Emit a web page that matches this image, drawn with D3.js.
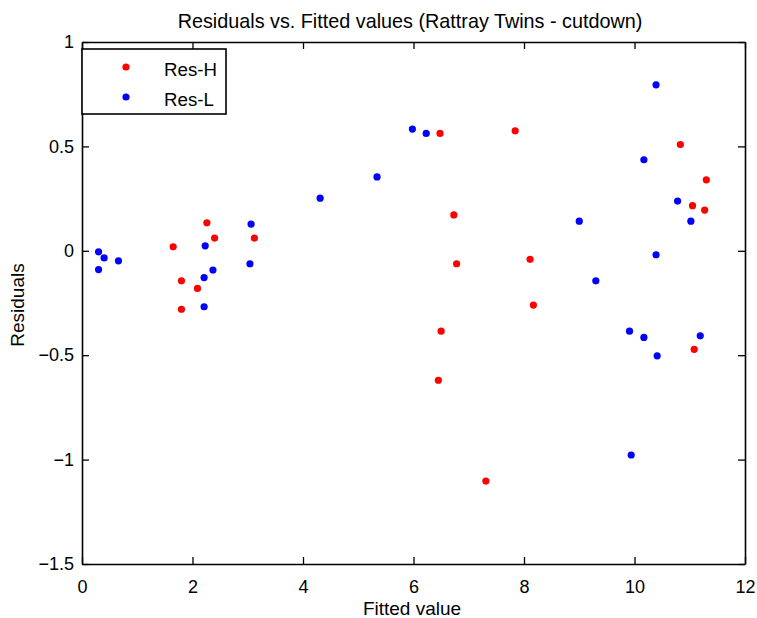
<!DOCTYPE html>
<html>
<head>
<meta charset="utf-8">
<script src="https://cdn.jsdelivr.net/npm/d3@7"></script>
<style>
  body { margin: 0; background: #fff; }
  svg { font-family: "Liberation Sans", Arial, sans-serif; }
</style>
</head>
<body>
<div id="chart"></div>
<script>
// Residuals: [fitted, residual]
const resH = [
  [1.65, 0.019], [1.80, -0.144], [2.09, -0.18], [1.80, -0.28], [2.26, 0.134],
  [2.40, 0.061], [3.12, 0.061], [6.48, 0.562], [7.84, 0.575], [6.73, 0.172],
  [6.78, -0.062], [8.11, -0.041], [8.17, -0.26], [6.50, -0.385], [6.45, -0.62],
  [7.31, -1.103], [10.83, 0.509], [11.30, 0.34], [11.05, 0.216], [11.27, 0.195],
  [11.08, -0.472]
];
const resL = [
  [0.30, -0.005], [0.40, -0.034], [0.66, -0.048], [0.30, -0.09], [2.23, 0.024],
  [2.21, -0.128], [2.37, -0.092], [2.21, -0.268], [3.06, 0.128], [3.04, -0.062],
  [4.31, 0.252], [5.34, 0.354], [5.98, 0.583], [6.23, 0.562], [10.39, 0.795],
  [10.17, 0.436], [10.78, 0.238], [11.02, 0.142], [9.00, 0.142], [10.39, -0.019],
  [9.30, -0.144], [9.91, -0.385], [10.17, -0.415], [11.19, -0.407], [10.41, -0.503],
  [9.94, -0.978]
];
const seriesNames = ['Res-H', 'Res-L'];
const seriesColors = ['#ff0000', '#0000ff'];
const xTicks = [0, 2, 4, 6, 8, 10, 12];
const yTicks = [-1.5, -1, -0.5, 0, 0.5, 1];

const svgWidth = 757, svgHeight = 618;
const margin = {left: 82, top: 42, right: 12, bottom: 54};
const plotW = svgWidth - margin.left - margin.right;
const plotH = svgHeight - margin.top - margin.bottom;

const svg = d3.select('#chart').append('svg')
  .attr('width', svgWidth)
  .attr('height', svgHeight);

const x = d3.scaleLinear().domain([0, 12]).range([margin.left, margin.left + plotW]);
const y = d3.scaleLinear().domain([-1.5, 1]).range([margin.top + plotH, margin.top]);

// points
[resH, resL].forEach((data, k) => {
  svg.append('g').selectAll('circle')
    .data(data)
    .enter()
    .append('circle')
    .attr('cx', d => x(d[0]))
    .attr('cy', d => y(d[1]))
    .attr('r', 3.6)
    .attr('fill', seriesColors[k]);
});

// axes, ticks pointing inward on all four sides
const tick = 7;
const fmt = d => d3.format('')(d);

const axBottom = svg.append('g')
  .attr('transform', 'translate(0,' + (margin.top + plotH) + ')')
  .call(d3.axisBottom(x).tickValues(xTicks).tickSizeInner(-tick).tickSizeOuter(0).tickPadding(16).tickFormat(fmt));
const axTop = svg.append('g')
  .attr('transform', 'translate(0,' + margin.top + ')')
  .call(d3.axisTop(x).tickValues(xTicks).tickSizeInner(-tick).tickSizeOuter(0).tickFormat(''));
const axLeft = svg.append('g')
  .attr('transform', 'translate(' + margin.left + ',0)')
  .call(d3.axisLeft(y).tickValues(yTicks).tickSizeInner(-tick).tickSizeOuter(0).tickPadding(8).tickFormat(fmt));
const axRight = svg.append('g')
  .attr('transform', 'translate(' + (margin.left + plotW) + ',0)')
  .call(d3.axisRight(y).tickValues(yTicks).tickSizeInner(-tick).tickSizeOuter(0).tickFormat(''));

[axBottom, axTop, axLeft, axRight].forEach(g => {
  g.select('.domain').attr('stroke', '#000').attr('stroke-width', 1.6);
  g.selectAll('.tick line').attr('stroke', '#000').attr('stroke-width', 1.3);
  g.selectAll('.tick text').attr('fill', '#000').attr('font-size', 18)
    .attr('font-family', '"Liberation Sans", Arial, sans-serif');
});

// title and labels
svg.append('text')
  .attr('x', 410)
  .attr('y', 28)
  .attr('text-anchor', 'middle')
  .attr('font-size', 19.8)
  .text('Residuals vs. Fitted values (Rattray Twins - cutdown)');

svg.append('text')
  .attr('x', 412)
  .attr('y', 615)
  .attr('text-anchor', 'middle')
  .attr('font-size', 19)
  .text('Fitted value');

svg.append('text')
  .attr('transform', 'translate(24,305)rotate(-90)')
  .attr('text-anchor', 'middle')
  .attr('font-size', 19)
  .text('Residuals');

// legend
const legend = svg.append('g').attr('transform', 'translate(82,49)');
legend.append('rect')
  .attr('width', 144)
  .attr('height', 65)
  .attr('fill', '#fff')
  .attr('stroke', '#000')
  .attr('stroke-width', 1.6);
seriesNames.forEach((name, i) => {
  const row = legend.append('g').attr('transform', 'translate(0,' + (18 + i * 30) + ')');
  row.append('circle').attr('cx', 44).attr('cy', 0).attr('r', 3.6).attr('fill', seriesColors[i]);
  row.append('text').attr('x', 82).attr('y', 9).attr('font-size', 18.7).text(name);
});
</script>
</body>
</html>
